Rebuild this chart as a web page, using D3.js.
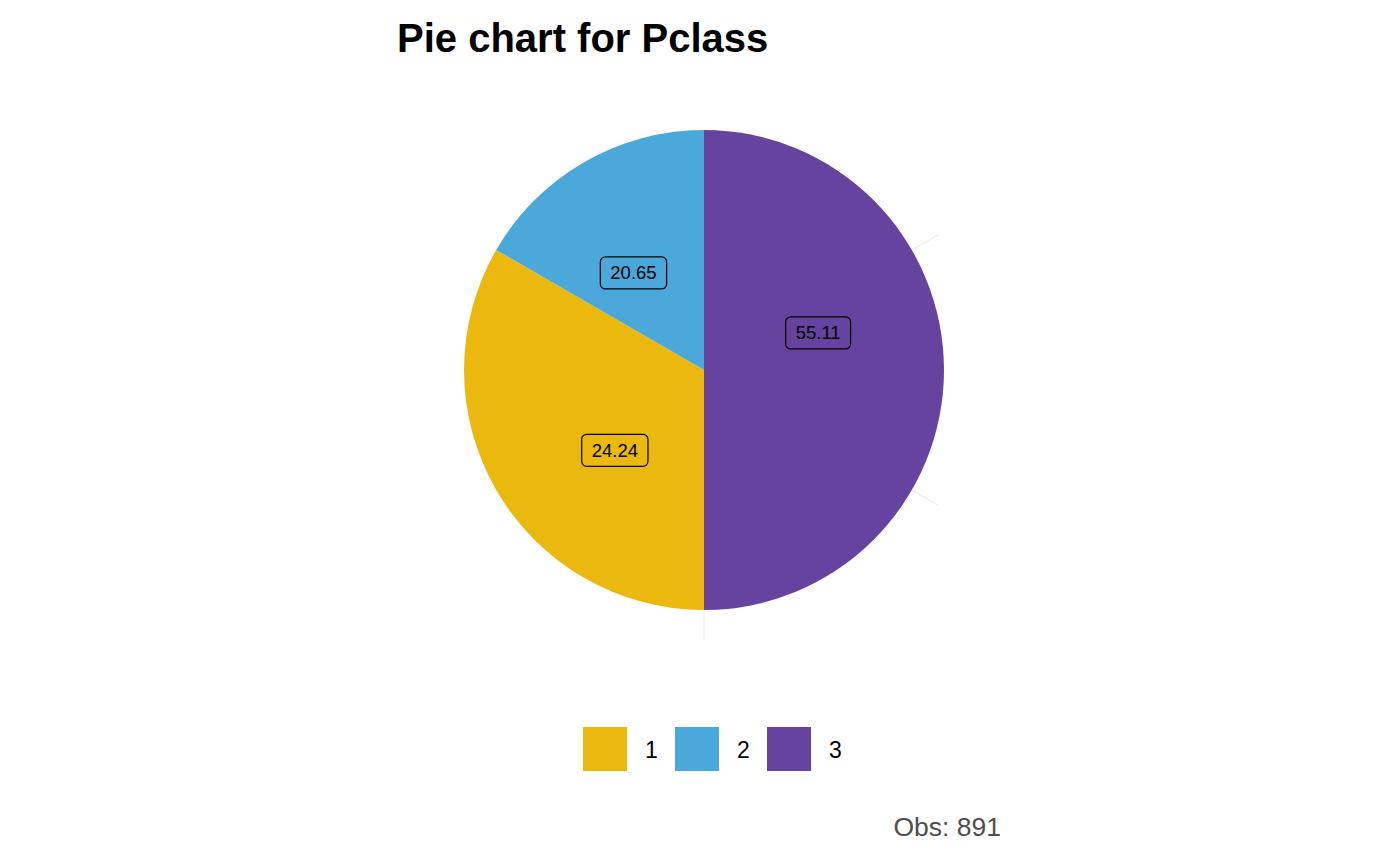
<!DOCTYPE html>
<html>
<head>
<meta charset="utf-8">
<title>Pie chart for Pclass</title>
<script src="https://cdn.jsdelivr.net/npm/d3@7"></script>
<style>
  body { margin: 0; background: #fff; }
  text { font-family: "Liberation Sans", Arial, Helvetica, sans-serif; }
</style>
</head>
<body>
<div id="chart"></div>
<script>
// data
const classes = ["1", "2", "3"];
const percents = [24.24, 20.65, 55.11];
const sliceValues = [2, 1, 3];          // angular extent as drawn (y units)
const stackOrder = ["3", "1", "2"];     // clockwise from 12 o'clock
const labelY = [3.8, 5.4, 1.2];         // label positions along theta (y units)
const thetaBreaks = [1, 2, 3];
const colors = ["#EBB80E", "#4AA8DB", "#65439F"];
const obs = 891;

const width = 1400, height = 866;
const cx = 704, cy = 370, radius = 240, gridR = 270;

const svg = d3.select("#chart").append("svg")
    .attr("width", width)
    .attr("height", height);

const total = d3.sum(sliceValues);
const theta = d3.scaleLinear().domain([0, total]).range([0, 2 * Math.PI]);
const color = d3.scaleOrdinal().domain(classes).range(colors);

const data = classes.map((c, i) => ({ cls: c, value: sliceValues[i], pct: percents[i], ly: labelY[i] }));

const g = svg.append("g").attr("transform", "translate(" + cx + "," + cy + ")");

// theta grid lines (under the pie)
g.selectAll(".grid")
    .data(thetaBreaks)
    .enter().append("line")
    .attr("class", "grid")
    .attr("x1", 0).attr("y1", 0)
    .attr("x2", d => gridR * Math.sin(theta(d)))
    .attr("y2", d => -gridR * Math.cos(theta(d)))
    .attr("stroke", "#ebebeb")
    .attr("stroke-width", 1.1);

const pie = d3.pie()
    .value(d => d.value)
    .sort((a, b) => stackOrder.indexOf(a.cls) - stackOrder.indexOf(b.cls));

const arc = d3.arc().innerRadius(0).outerRadius(radius);

g.selectAll(".slice")
    .data(pie(data))
    .enter().append("path")
    .attr("class", "slice")
    .attr("d", arc)
    .attr("fill", d => color(d.data.cls));

// labels
const labelR = radius / 2;
const lab = g.selectAll(".lab")
    .data(data)
    .enter().append("g")
    .attr("class", "lab")
    .attr("transform", d => "translate(" + (labelR * Math.sin(theta(d.ly))) + "," + (-labelR * Math.cos(theta(d.ly))) + ")");

lab.append("rect");
lab.append("text")
    .attr("text-anchor", "middle")
    .attr("dy", "0.35em")
    .attr("font-size", 18.5)
    .attr("fill", "#000")
    .text(d => d.pct.toFixed(2));

lab.each(function () {
    const t = d3.select(this).select("text");
    const bb = t.node().getBBox();
    const w = bb.width + 20, h = 32;
    d3.select(this).select("rect")
        .attr("x", -w / 2).attr("y", -h / 2)
        .attr("width", w).attr("height", h)
        .attr("rx", 5).attr("ry", 5)
        .attr("fill", d => color(d.cls))
        .attr("stroke", "#000")
        .attr("stroke-width", 1.2);
});

// title
svg.append("text")
    .attr("x", 397).attr("y", 52)
    .attr("font-size", 40)
    .attr("font-weight", "bold")
    .attr("fill", "#000")
    .text("Pie chart for Pclass");

// legend
const legend = svg.append("g").attr("transform", "translate(583,727)");
const item = legend.selectAll(".item")
    .data(classes)
    .enter().append("g")
    .attr("class", "item")
    .attr("transform", (d, i) => "translate(" + (i * 92) + ",0)");
item.append("rect")
    .attr("width", 44).attr("height", 44)
    .attr("fill", d => color(d));
item.append("text")
    .attr("x", 62).attr("y", 31)
    .attr("font-size", 23)
    .attr("fill", "#000")
    .text(d => d);

// caption
svg.append("text")
    .attr("x", 1001).attr("y", 836)
    .attr("text-anchor", "end")
    .attr("font-size", 26.5)
    .attr("fill", "#4d4d4d")
    .text("Obs: " + obs);
</script>
</body>
</html>
